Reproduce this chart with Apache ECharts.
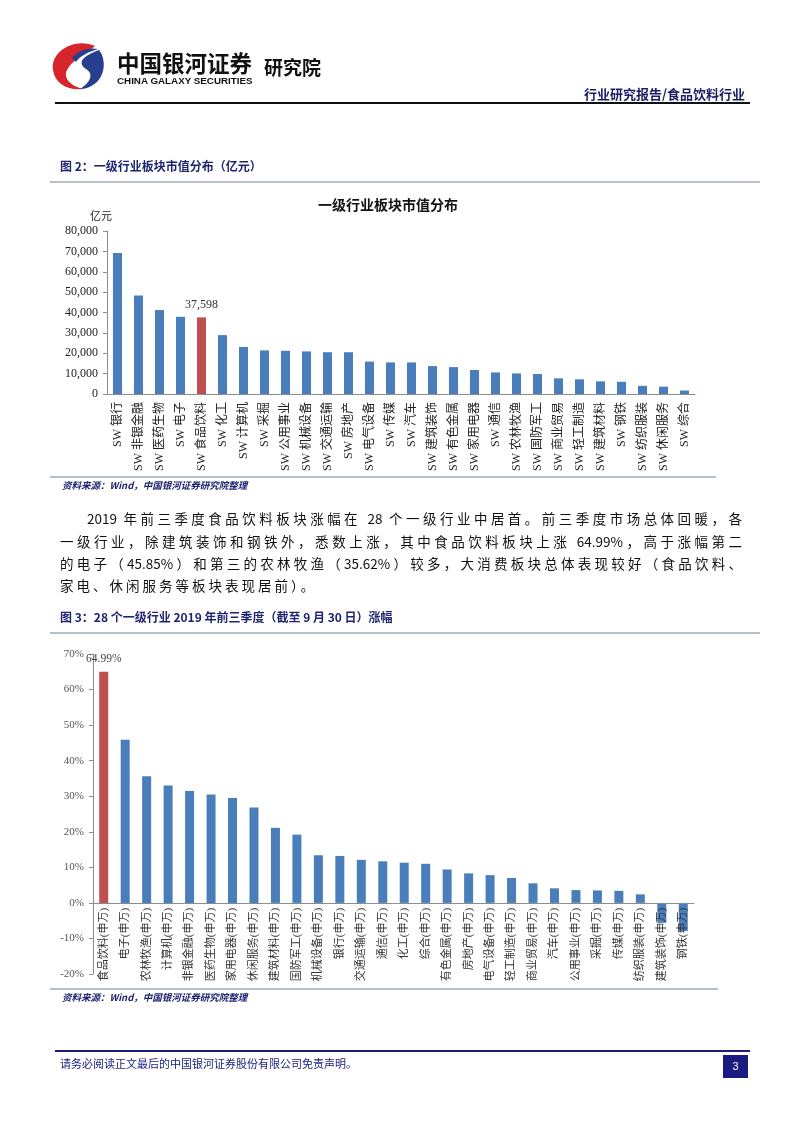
<!DOCTYPE html>
<html><head><meta charset="utf-8">
<script src="https://cdn.jsdelivr.net/npm/echarts@6/dist/echarts.min.js"></script>
<style>
html,body{margin:0;padding:0;background:#fff;}
#page{position:relative;width:802px;height:1133px;overflow:hidden;background:#fff;}
#chart{position:absolute;left:0;top:0;width:802px;height:1133px;}
#logo{position:absolute;left:0;top:0;}
.t{position:absolute;white-space:nowrap;font-family:"Noto Sans CJK SC","Noto Sans",sans-serif;}
.navy{color:#1f2470;}
.para{position:absolute;font-family:"Noto Sans CJK SC",sans-serif;font-size:13.5px;line-height:22px;height:22px;color:#111;white-space:nowrap;overflow:visible;}
.just{text-align:justify;text-align-last:justify;white-space:normal;}
</style></head>
<body><div id="page"><div id="chart"></div>
<svg id="logo" width="120" height="110" viewBox="0 0 120 110">
  <path d="M 95 46 C 74 37, 50 52, 53 70 C 55 84, 68 91, 84 89 C 70 86, 63 78, 67 70 C 72 60, 84 55, 95 46 Z" fill="#d7262b"/>
  <path d="M 99 50 C 107 60, 105 78, 93 85 C 88 88, 84 89, 80 89 C 91 82, 94 74, 86 69 C 80 65, 77 58, 99 50 Z" fill="#283e8f"/>
  <path d="M 72 58 C 78 50, 90 47, 98 49 C 88 52, 80 56, 76 62 Z" fill="#283e8f"/>
</svg>
<div class="t" style="left:117px;top:48px;font-size:22.5px;line-height:28px;font-weight:bold;color:#111;">中国银河证券</div>
<div class="t" style="left:117px;top:75px;font-size:9.8px;line-height:12px;font-weight:bold;color:#111;font-family:'Liberation Sans',Arial,sans-serif;">CHINA GALAXY SECURITIES</div>
<div class="t" style="left:264px;top:55px;font-size:19px;line-height:24px;font-weight:bold;color:#111;">研究院</div>
<div class="t navy" style="right:57px;top:86px;font-size:13px;line-height:16px;font-weight:bold;color:#1b1a66;">行业研究报告/食品饮料行业</div>
<div class="t navy" style="left:60px;top:158px;font-size:12px;line-height:16px;font-weight:bold;">图 2：一级行业板块市值分布（亿元）</div>
<div class="t navy" style="left:62px;top:479px;font-size:9.5px;line-height:12px;font-style:italic;font-weight:bold;">资料来源：Wind，中国银河证券研究院整理</div>
<div class="para just" style="left:87px;top:507px;width:655px;">2019 年前三季度食品饮料板块涨幅在 28 个一级行业中居首。前三季度市场总体回暖，各</div>
<div class="para just" style="left:60px;top:530px;width:682px;">一级行业，除建筑装饰和钢铁外，悉数上涨，其中食品饮料板块上涨 64.99%，高于涨幅第二</div>
<div class="para just" style="left:60px;top:552px;width:682px;">的电子（45.85%）和第三的农林牧渔（35.62%）较多，大消费板块总体表现较好（食品饮料、</div>
<div class="para" style="left:60px;top:574px;letter-spacing:3px;">家电、休闲服务等板块表现居前）。</div>
<div class="t navy" style="left:60px;top:609px;font-size:12px;line-height:16px;font-weight:bold;">图 3：28 个一级行业 2019 年前三季度（截至 9 月 30 日）涨幅</div>
<div class="t navy" style="left:62px;top:991px;font-size:9.5px;line-height:12px;font-style:italic;font-weight:bold;">资料来源：Wind，中国银河证券研究院整理</div>
<div class="t navy" style="left:60px;top:1056px;font-size:11px;line-height:14px;color:#1b1a80;">请务必阅读正文最后的中国银河证券股份有限公司免责声明。</div>
<div class="t" style="left:723px;top:1055px;width:25px;height:23px;line-height:23px;text-align:center;font-size:11px;color:#fff;font-family:'Liberation Sans',Arial,sans-serif;z-index:2;">3</div>
</div>
<script>
// ---- Figure 2: market cap by level-1 industry (亿元) ----
const capCategories = ['SW银行','SW非银金融','SW医药生物','SW电子','SW食品饮料','SW化工','SW计算机','SW采掘','SW公用事业','SW机械设备','SW交通运输','SW房地产','SW电气设备','SW传媒','SW汽车','SW建筑装饰','SW有色金属','SW家用电器','SW通信','SW农林牧渔','SW国防军工','SW商业贸易','SW轻工制造','SW建筑材料','SW钢铁','SW纺织服装','SW休闲服务','SW综合'];
const capValues = [69200, 48400, 41200, 37900, 37598, 28900, 23100, 21400, 21200, 20900, 20500, 20500, 15900, 15500, 15500, 13700, 13200, 11800, 10600, 10100, 9800, 7700, 7200, 6200, 6000, 4000, 3600, 1700];
const capHighlight = 'SW食品饮料';
const capTitle = '一级行业板块市值分布';
const capUnit = '亿元';
const capAxis = {min: 0, max: 80000, interval: 10000};

// ---- Figure 3: 2019 Q1-Q3 return by level-1 industry (%) ----
const retCategories = ['食品饮料(申万)','电子(申万)','农林牧渔(申万)','计算机(申万)','非银金融(申万)','医药生物(申万)','家用电器(申万)','休闲服务(申万)','建筑材料(申万)','国防军工(申万)','机械设备(申万)','银行(申万)','交通运输(申万)','通信(申万)','化工(申万)','综合(申万)','有色金属(申万)','房地产(申万)','电气设备(申万)','轻工制造(申万)','商业贸易(申万)','汽车(申万)','公用事业(申万)','采掘(申万)','传媒(申万)','纺织服装(申万)','建筑装饰(申万)','钢铁(申万)'];
const retValues = [64.99, 45.85, 35.62, 33.0, 31.5, 30.5, 29.5, 26.8, 21.1, 19.2, 13.4, 13.2, 12.1, 11.7, 11.3, 11.0, 9.4, 8.3, 7.8, 7.0, 5.5, 4.1, 3.6, 3.5, 3.4, 2.4, -5.6, -7.9];
const retHighlight = '食品饮料(申万)';
const retAxis = {min: -20, max: 70, interval: 10};

const BLUE = '#4a7ebb', RED = '#c0504d', AXIS = '#8c8c8c';
const SERIF = '"Liberation Serif","DejaVu Serif","Noto Sans CJK SC",serif';

const grid2 = {left: 93, top: 654, width: 601, height: 320};
// place the category axis (line + labels) at the value-axis zero
const zeroOffset = -grid2.height * (0 - retAxis.min) / (retAxis.max - retAxis.min);

const chart = echarts.init(document.getElementById('chart'));
chart.setOption({
  animation: false,
  grid: [
    {left: 107, top: 231, width: 588, height: 163},
    grid2
  ],
  xAxis: [
    {gridIndex: 0, type: 'category', data: capCategories,
     axisLine: {lineStyle: {color: AXIS}}, axisTick: {length: 4, lineStyle: {color: AXIS}},
     axisLabel: {rotate: 90, interval: 0, fontSize: 12, color: '#222', fontFamily: SERIF, margin: 8,
                 formatter: v => v.replace('SW', 'SW ')}},
    {gridIndex: 1, type: 'category', data: retCategories, z: 10, position: 'bottom', offset: zeroOffset,
     axisLine: {onZero: false, lineStyle: {color: AXIS}}, axisTick: {length: 4, lineStyle: {color: AXIS}},
     axisLabel: {rotate: 90, interval: 0, fontSize: 11, color: '#333', fontFamily: SERIF, margin: 5}}
  ],
  yAxis: [
    {gridIndex: 0, type: 'value', min: capAxis.min, max: capAxis.max, interval: capAxis.interval,
     axisLine: {show: true, lineStyle: {color: AXIS}}, axisTick: {show: true, length: 4, lineStyle: {color: AXIS}},
     splitLine: {show: false},
     axisLabel: {fontSize: 12, color: '#222', fontFamily: SERIF, margin: 9,
                 formatter: v => v.toLocaleString('en-US')}},
    {gridIndex: 1, type: 'value', min: retAxis.min, max: retAxis.max, interval: retAxis.interval,
     axisLine: {show: true, lineStyle: {color: AXIS}}, axisTick: {show: true, length: 4, lineStyle: {color: AXIS}},
     splitLine: {show: false},
     axisLabel: {fontSize: 11, color: '#555', fontFamily: SERIF, margin: 9, formatter: '{value}%'}}
  ],
  series: [
    {type: 'bar', xAxisIndex: 0, yAxisIndex: 0, barWidth: 9,
     data: capValues.map((v, i) => capCategories[i] === capHighlight
       ? {value: v, itemStyle: {color: RED},
          label: {show: true, position: 'top', distance: 7, fontSize: 12, color: '#333', fontFamily: SERIF,
                  formatter: p => p.value.toLocaleString('en-US')}}
       : {value: v, itemStyle: {color: BLUE}})},
    {type: 'bar', xAxisIndex: 1, yAxisIndex: 1, barWidth: 9,
     data: retValues.map((v, i) => retCategories[i] === retHighlight
       ? {value: v, itemStyle: {color: RED},
          label: {show: true, position: 'top', distance: 7, fontSize: 11.5, color: '#444', fontFamily: SERIF,
                  formatter: p => p.value.toFixed(2) + '%'}}
       : {value: v, itemStyle: {color: BLUE}})}
  ],
  graphic: [
    {type: 'text', x: 388, y: 205, style: {text: capTitle, font: 'bold 14px "Noto Sans CJK SC",sans-serif', fill: '#111', textAlign: 'center', textVerticalAlign: 'middle'}},
    {type: 'text', x: 90, y: 216, style: {text: capUnit, font: '11px "Noto Sans CJK SC",sans-serif', fill: '#222', textVerticalAlign: 'middle'}},
    {type: 'line', shape: {x1: 55, y1: 103, x2: 750, y2: 103}, style: {stroke: '#111', lineWidth: 2}},
    {type: 'line', shape: {x1: 50, y1: 182, x2: 760, y2: 182}, style: {stroke: '#b6c0cc', lineWidth: 2}},
    {type: 'line', shape: {x1: 50, y1: 477, x2: 716, y2: 477}, style: {stroke: '#b6c0cc', lineWidth: 2}},
    {type: 'line', shape: {x1: 50, y1: 633, x2: 760, y2: 633}, style: {stroke: '#b6c0cc', lineWidth: 2}},
    {type: 'line', shape: {x1: 50, y1: 989, x2: 718, y2: 989}, style: {stroke: '#b6c0cc', lineWidth: 2}},
    {type: 'line', shape: {x1: 55, y1: 1051, x2: 750, y2: 1051}, style: {stroke: '#1b1a80', lineWidth: 2}},
    {type: 'rect', shape: {x: 723, y: 1055, width: 25, height: 23}, style: {fill: '#1b1a80'}}
  ]
});
</script>
</body></html>
